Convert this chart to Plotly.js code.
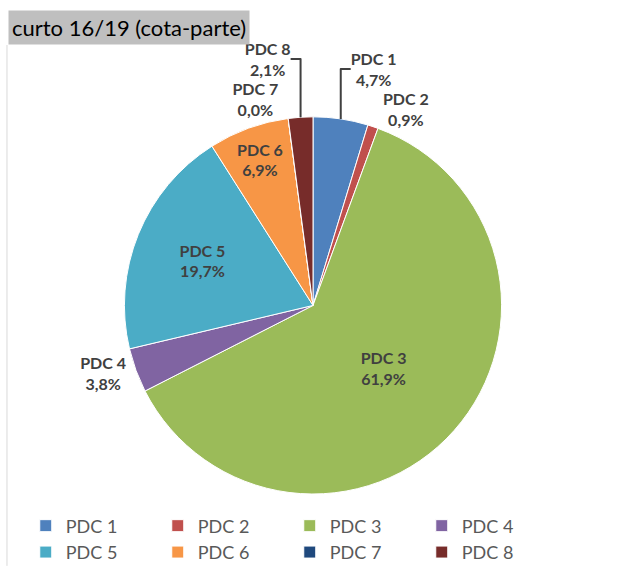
<!DOCTYPE html>
<html>
<head>
<meta charset="utf-8">
<script src="https://cdn.plot.ly/plotly-3.0.1.min.js"></script>
<style>html,body{margin:0;padding:0;background:#fff;}</style>
</head>
<body>
<div id="chart" style="width:626px;height:580px;"></div>
<script>
const categories = ["PDC 1", "PDC 2", "PDC 3", "PDC 4", "PDC 5", "PDC 6", "PDC 7", "PDC 8"];
const values = [4.7, 0.9, 61.9, 3.8, 19.7, 6.9, 0.0, 2.1];
const valueLabels = ["4,7%", "0,9%", "61,9%", "3,8%", "19,7%", "6,9%", "0,0%", "2,1%"];
const colors = ["#4F81BD", "#C0504D", "#9BBB59", "#8064A2", "#4BACC6", "#F79646", "#1F497D", "#772C2A"];
const positions = ["outside", "outside", "inside", "outside", "inside", "inside", "outside", "outside"];
const titleText = "curto 16/19 (cota-parte)";

const fontFam = "Lato, 'Open Sans', sans-serif";

const trace = {
  type: "pie",
  labels: categories,
  values: values,
  text: valueLabels,
  texttemplate: "<b>%{label}<br>%{text}</b>",
  textposition: positions,
  insidetextorientation: "horizontal",
  sort: false,
  direction: "clockwise",
  rotation: 0,
  marker: {colors: colors, line: {color: "#ffffff", width: 1}},
  textfont: {family: fontFam, size: 16, color: "#404040"},
  insidetextfont: {family: fontFam, size: 16, color: "#404040"},
  outsidetextfont: {family: fontFam, size: 16, color: "#404040"},
  hoverinfo: "label+percent",
  automargin: false,
  domain: {x: [0, 1], y: [0, 0.84]}
};

const layout = {
  width: 626,
  height: 580,
  paper_bgcolor: "#ffffff",
  margin: {l: 10, r: 10, t: 45, b: 70},
  showlegend: true,
  legend: {
    orientation: "h",
    x: 0.026, xanchor: "left",
    y: -0.03, yanchor: "top",
    entrywidth: 87,
    entrywidthmode: "pixels",
    traceorder: "normal",
    font: {family: fontFam, size: 18, color: "#595959"},
    itemwidth: 30,
    tracegroupgap: 0
  },
  annotations: [{
    text: titleText,
    xref: "paper", yref: "paper",
    x: -0.004, y: 1.04,
    xanchor: "left", yanchor: "middle",
    showarrow: false,
    bgcolor: "#BFBFBF",
    borderpad: 3,
    font: {family: fontFam, size: 22, color: "#000000"}
  }],
  shapes: [{
    type: "line", xref: "paper", yref: "paper",
    x0: -0.005, x1: -0.005, y0: 1.0, y1: -0.16,
    line: {color: "#D9D9D9", width: 1}
  }]
};

Plotly.newPlot("chart", [trace], layout, {displayModeBar: false, staticPlot: true});
</script>
</body>
</html>
